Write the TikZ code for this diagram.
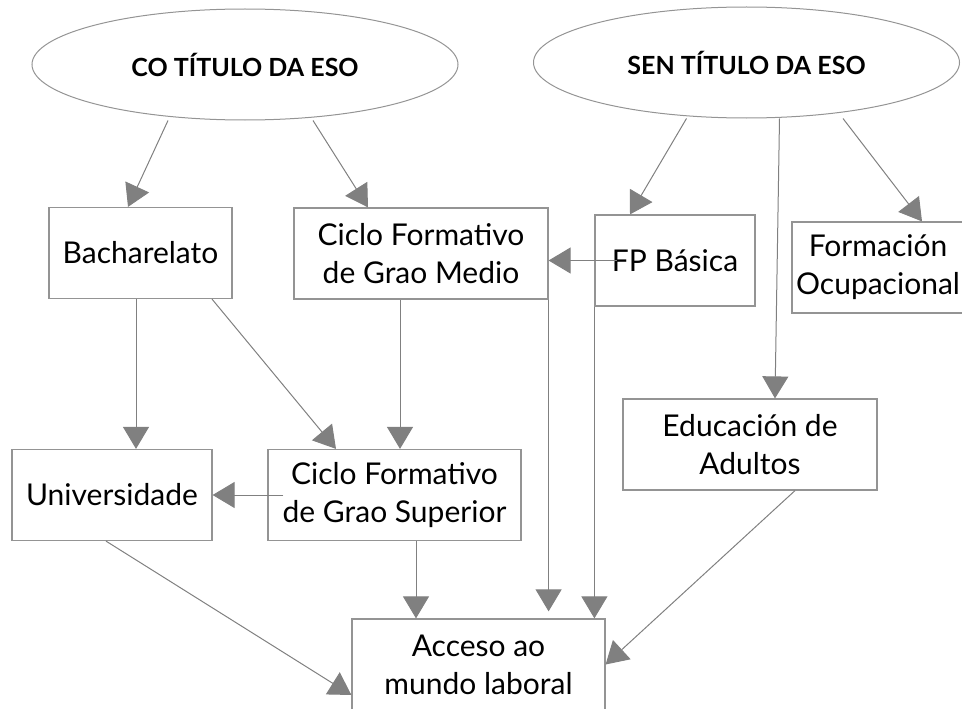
\documentclass[tikz,border=0pt]{standalone}
\usepackage{fontspec}
\setmainfont{Lato}
\usetikzlibrary{shapes.geometric,arrows.meta,calc}
\begin{document}
\begin{tikzpicture}[x=1pt,y=-1pt,
	caixa/.style={draw=borde, line width=1.2pt, rectangle, inner sep=0, minimum height=91pt, align=center, font=\fontsize{30}{38}\selectfont},
	elipse/.style={draw=borde, line width=1pt, ellipse, inner sep=0, minimum width=426pt, minimum height=111pt, font=\fontsize{25}{35}\selectfont\bfseries},
	frecha/.style={draw=liña, line width=1pt, -{Triangle[length=22pt, width=26pt]}, liña}]
		\colorlet{borde}{black!42}
		\colorlet{liña}{black!50}
		\clip (0,0) rectangle (962,709);
		\node (co) at (245,64.5) [elipse] {CO TÍTULO DA ESO};
		\node (sen) at (746.5,62.5) [elipse] {SEN TÍTULO DA ESO};
		\node (bach) at (140.5,253) [caixa, minimum width=183pt] {Bacharelato};
		\node (cfgm) at (421,253.5) [caixa, minimum width=254pt] {Ciclo Formativo\\de Grao Medio};
		\node (fp) at (675,260.5) [caixa, minimum width=160pt] {FP Básica};
		\node (ocup) at (878,267.5) [caixa, minimum width=172pt] {Formación\\Ocupacional};
		\node (adult) at (750,444.5) [caixa, minimum width=254pt] {Educación de\\Adultos};
		\node (univ) at (112,495) [caixa, minimum width=200pt] {Universidade};
		\node (cfgs) at (394.5,495) [caixa, minimum width=253pt] {Ciclo Formativo\\de Grao Superior};
		\node (acceso) at (478.5,664.5) [caixa, minimum width=253pt] {Acceso ao\\mundo laboral};
		\draw[frecha] ([xshift=-77pt]co.south) -- ([xshift=-12.5pt]bach.north);
		\draw[frecha] ([xshift=68pt]co.south) -- ([xshift=-53pt]cfgm.north);
		\draw[frecha] ([xshift=-60pt]sen.south) -- ([xshift=-45pt]fp.north);
		\draw[frecha] ([xshift=33pt]sen.south) -- ([xshift=25pt]adult.north);
		\draw[frecha] ([xshift=96.5pt]sen.south) -- ([xshift=44pt]ocup.north);
		\draw[frecha] ([xshift=-58pt]fp.center) -- (fp.center -| cfgm.east);
		\draw[frecha] ([xshift=-4.5pt]bach.south) -- ([xshift=24pt]univ.north);
		\draw[frecha] ([xshift=71.5pt]bach.south) -- ([xshift=-58.5pt]cfgs.north);
		\draw[frecha] ([xshift=-21pt]cfgm.south) -- ([xshift=5.5pt]cfgs.north);
		\draw[frecha] ([xshift=16pt]cfgs.west) -- (univ.east);
		\draw[frecha] (cfgm.south east) -- ($(acceso.north -| cfgm.east)+(0,-7)$);
		\draw[frecha] (fp.south west) -- (acceso.north -| fp.west);
		\draw[frecha] ([xshift=21.5pt]cfgs.south) -- ([xshift=-62.5pt]acceso.north);
		\draw[frecha] ([xshift=-6pt]univ.south) -- ([yshift=-30.5pt]acceso.west);
		\draw[frecha] ([xshift=45pt]adult.south) -- (acceso.east);
	\end{tikzpicture}
\end{document}
